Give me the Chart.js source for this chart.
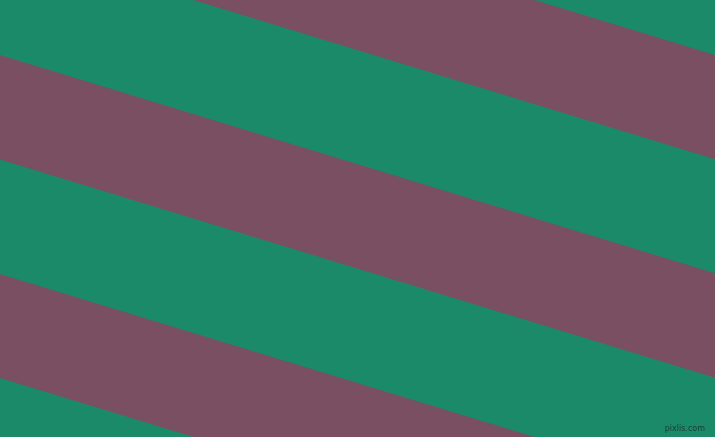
<!DOCTYPE html>
<html lang="en">
<head>
  <meta charset="UTF-8">
  <title>Stripes</title>
  <script src="https://cdn.jsdelivr.net/npm/chart.js"></script>
  <style>
    html, body { margin: 0; padding: 0; background: #1b8a68; overflow: hidden; }
    .wrap { position: relative; width: 715px; height: 437px; }
    #stripes { display: block; background: #1b8a68; }
    .mark {
      position: absolute; right: 10px; bottom: 4px;
      font: 8px "DejaVu Sans", sans-serif;
      color: #173f33; letter-spacing: 0;
    }
  </style>
</head>
<body>
<div class="wrap">
  <canvas id="stripes" width="715" height="437"></canvas>
  <div class="mark">pixlis.com</div>
</div>

<script>
  // x positions of the left and right edge of the picture
  const edgeX = [0, 715];

  // maroon bands: y of upper and lower boundary at the left and right edge
  const bandTopLeft = [-163, 55, 274];
  const bandTopRight = [55, 273.3, 492];
  const bandBottomLeft = [-59, 159.5, 378];
  const bandBottomRight = [159.3, 377.7, 596];

  const maroon = "#7a4f61";

  const datasets = [];
  bandTopLeft.forEach((_, i) => {
    datasets.push({
      data: [
        { x: edgeX[0], y: bandTopLeft[i] },
        { x: edgeX[1], y: bandTopRight[i] },
      ],
      borderWidth: 0,
      pointRadius: 0,
      fill: false,
    });
    datasets.push({
      data: [
        { x: edgeX[0], y: bandBottomLeft[i] },
        { x: edgeX[1], y: bandBottomRight[i] },
      ],
      borderWidth: 0,
      pointRadius: 0,
      backgroundColor: maroon,
      fill: "-1",
    });
  });

  new Chart(document.getElementById("stripes"), {
    type: "line",
    data: { datasets },
    options: {
      responsive: false,
      devicePixelRatio: 1,
      animation: false,
      layout: { padding: 0 },
      plugins: { legend: { display: false }, tooltip: { enabled: false } },
      scales: {
        x: { type: "linear", min: 0, max: 715, display: false },
        y: { type: "linear", min: 0, max: 437, reverse: true, display: false },
      },
    },
  });
</script>
</body>
</html>
